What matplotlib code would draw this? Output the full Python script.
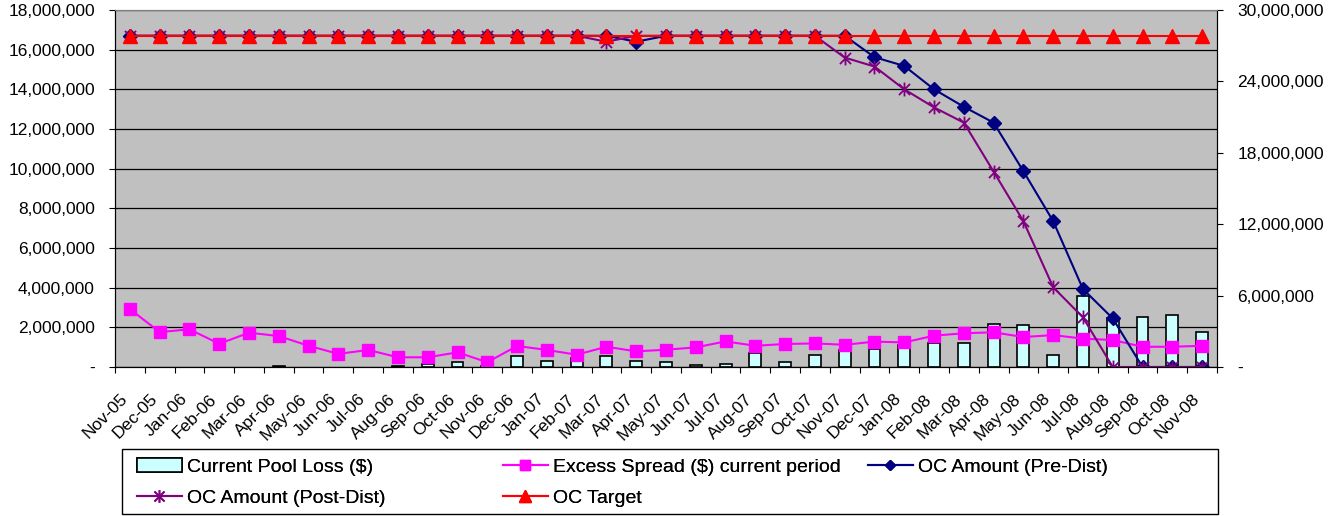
import numpy as np
import matplotlib
matplotlib.use("Agg")
import matplotlib.pyplot as plt
import matplotlib.transforms as mtransforms
from matplotlib.patches import Rectangle, Patch
from matplotlib.lines import Line2D
from matplotlib.path import Path
from matplotlib.ticker import FuncFormatter, MultipleLocator

plt.rcParams["font.family"] = ["Liberation Sans", "DejaVu Sans"]

# ---
# Data (values in $ millions)
# ---
months = [
    "Nov-05", "Dec-05", "Jan-06", "Feb-06", "Mar-06", "Apr-06", "May-06",
    "Jun-06", "Jul-06", "Aug-06", "Sep-06", "Oct-06", "Nov-06", "Dec-06",
    "Jan-07", "Feb-07", "Mar-07", "Apr-07", "May-07", "Jun-07", "Jul-07",
    "Aug-07", "Sep-07", "Oct-07", "Nov-07", "Dec-07", "Jan-08", "Feb-08",
    "Mar-08", "Apr-08", "May-08", "Jun-08", "Jul-08", "Aug-08", "Sep-08",
    "Oct-08", "Nov-08",
]

pool_loss = [
    0.0, 0.0, 0.0, 0.0, 0.0, 0.03, 0.0, 0.0, 0.0, 0.03, 0.15, 0.25, 0.05,
    0.54, 0.29, 0.44, 0.54, 0.30, 0.24, 0.11, 0.14, 0.69, 0.27, 0.60, 0.86,
    0.90, 1.10, 1.23, 1.19, 2.17, 2.13, 0.59, 3.58, 2.47, 2.54, 2.62, 1.78,
]

excess_spread = [
    2.92, 1.76, 1.90, 1.17, 1.73, 1.56, 1.07, 0.66, 0.86, 0.49, 0.49, 0.74,
    0.24, 1.06, 0.86, 0.62, 1.02, 0.79, 0.87, 0.99, 1.29, 1.07, 1.16, 1.19,
    1.12, 1.28, 1.24, 1.58, 1.70, 1.75, 1.51, 1.61, 1.43, 1.36, 1.02, 1.02,
    1.07,
]

oc_pre = [
    16.70, 16.70, 16.70, 16.70, 16.70, 16.70, 16.70, 16.70, 16.70, 16.70,
    16.70, 16.70, 16.70, 16.70, 16.70, 16.70, 16.70, 16.40, 16.70, 16.70,
    16.70, 16.70, 16.70, 16.70, 16.70, 15.62, 15.18, 14.00, 13.12, 12.32,
    9.87, 7.35, 3.93, 2.45, 0.0, 0.0, 0.0,
]

oc_post = [
    16.70, 16.70, 16.70, 16.70, 16.70, 16.70, 16.70, 16.70, 16.70, 16.70,
    16.70, 16.70, 16.70, 16.70, 16.70, 16.70, 16.40, 16.70, 16.70, 16.70,
    16.70, 16.70, 16.70, 16.70, 15.60, 15.15, 14.00, 13.09, 12.32, 9.85,
    7.35, 4.02, 2.50, 0.0, 0.0, 0.0, 0.0,
]

oc_target = [16.70] * 37

# Excel style "star" marker: vertical bar plus an x
star = Path(
    [(0, -1), (0, 1), (-0.8, -0.8), (0.8, 0.8), (-0.8, 0.8), (0.8, -0.8)],
    [Path.MOVETO, Path.LINETO] * 3,
)


def money(v, pos):
    return "-" if abs(v) < 1 else f"{v:,.0f}"


def main():
    fig = plt.figure(figsize=(13.36, 5.16), dpi=100)
    ax = fig.add_axes([115 / 1336, 1 - 367 / 516, 1102 / 1336, 357 / 516])
    ax.set_facecolor("#C0C0C0")

    x = np.arange(len(months))
    m = 1e6

    # Excel draws nothing for a zero loss, so skip those bars
    loss = np.array(pool_loss)
    has_loss = loss > 0
    ax.bar(x[has_loss], loss[has_loss] * m, width=0.4, color="#CCFFFF",
           edgecolor="black", linewidth=1.2, zorder=2)
    ax.plot(x, np.array(excess_spread) * m, color="#FF00FF", lw=1.5,
            marker="s", ms=8.5, zorder=3)
    ax.plot(x, np.array(oc_pre) * m, color="#000080", lw=1.5,
            marker="D", ms=7, zorder=4)
    ax.plot(x, np.array(oc_post) * m, color="#800080", lw=1.5,
            marker=star, ms=10, mfc="none", mec="#800080", mew=1.3, zorder=5)
    ax.plot(x, np.array(oc_target) * m, color="#FF0000", lw=1.5,
            marker="^", ms=9.5, zorder=6)

    # Axes and grid
    ax.set_xlim(-0.5, len(months) - 0.5)
    ax.set_ylim(0, 18e6)
    ax.yaxis.set_major_locator(MultipleLocator(2e6))
    ax.yaxis.set_major_formatter(FuncFormatter(money))
    ax.set_axisbelow(True)
    ax.yaxis.grid(True, color="black", lw=0.9)
    ax.tick_params(axis="y", length=4.5, width=0.8, pad=10, labelsize=12.5)

    ax.set_xticks(x)
    ax.set_xticklabels(months)
    ax.set_xticks(np.arange(-0.5, len(months), 1), minor=True)
    ax.tick_params(axis="x", which="major", length=0, pad=17.5, labelsize=12.5)
    ax.tick_params(axis="x", which="minor", length=4, width=0.8)
    shift = mtransforms.ScaledTranslation(-10 / 100, 0, fig.dpi_scale_trans)
    for lab in ax.get_xticklabels():
        lab.set_rotation(45)
        lab.set_ha("right")
        lab.set_va("top")
        lab.set_rotation_mode("anchor")
        lab.set_transform(lab.get_transform() + shift)

    for side in ("left", "bottom"):
        ax.spines[side].set_color("black")
    ax.spines["top"].set_color("#808080")
    ax.spines["right"].set_color("black")

    ax2 = ax.twinx()
    ax2.set_ylim(0, 30e6)
    ax2.yaxis.set_major_locator(MultipleLocator(6e6))
    ax2.yaxis.set_major_formatter(FuncFormatter(money))
    ax2.tick_params(axis="y", length=4.5, width=0.8, pad=10, labelsize=12.5)
    ax2.spines["top"].set_color("#808080")

    # Legend: framed box with three columns
    fig.patches.append(Rectangle((122 / 1336, 1 - 514 / 516), 1096 / 1336,
                                 65 / 516, transform=fig.transFigure,
                                 facecolor="white", edgecolor="black", lw=1))

    h_loss = Patch(facecolor="#CCFFFF", edgecolor="black", lw=1.2)
    h_excess = Line2D([], [], color="#FF00FF", lw=1.5, marker="s", ms=7)
    h_pre = Line2D([], [], color="#000080", lw=1.5, marker="D", ms=5.5)
    h_post = Line2D([], [], color="#800080", lw=1.5, marker=star, ms=9,
                    mfc="none", mec="#800080", mew=1.3)
    h_target = Line2D([], [], color="#FF0000", lw=1.5, marker="^", ms=8)

    cols = [
        (137, [h_loss, h_post], ["Current Pool Loss ($)", "OC Amount (Post-Dist)"]),
        (503, [h_excess, h_target], ["Excess Spread ($) current period", "OC Target"]),
        (868, [h_pre], ["OC Amount (Pre-Dist)"]),
    ]
    for xpx, handles, labels in cols:
        leg = fig.legend(handles, labels, loc="upper left",
                         bbox_to_anchor=(xpx / 1336, 1 - 458 / 516),
                         frameon=False, fontsize=14, borderpad=0,
                         borderaxespad=0, handlelength=2.3, handletextpad=0.25,
                         labelspacing=0.72)
        fig.add_artist(leg)

    fig.savefig("out.png", dpi=100)


if __name__ == "__main__":
    main()
